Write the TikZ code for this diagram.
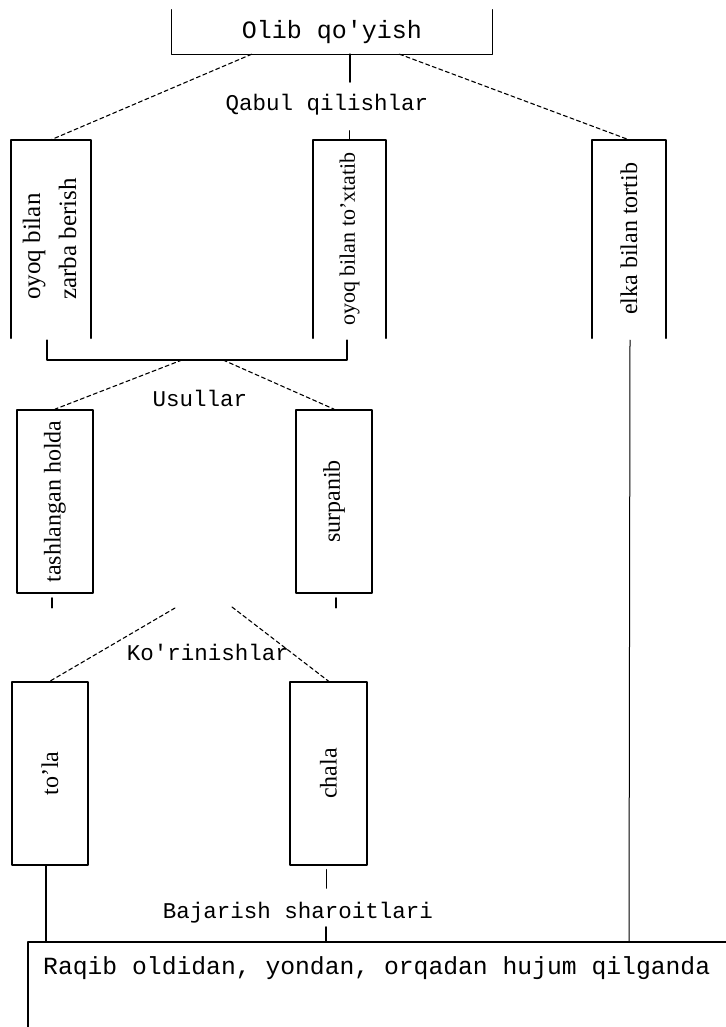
\documentclass[tikz,border=0pt]{standalone}
\usepackage{fontspec}
\setmainfont{Liberation Serif}
\newfontfamily\labfont{Liberation Mono}
\usepackage{graphicx}
\usetikzlibrary{calc}
\tikzset{
  box/.style={draw,line width=1.7pt,inner sep=0pt,font=\fontsize{24}{30}\selectfont},
  openbox/.style={inner sep=0pt,font=\fontsize{24}{30}\selectfont},
  lab/.style={inner sep=1pt,font=\labfont\fontsize{22.5}{26}\selectfont},
  dashline/.style={line width=1.1pt,dash pattern=on 4pt off 3pt},
  stub/.style={line width=1.8pt},
}
\newcommand{\vtext}[1]{\rotatebox{90}{#1}}

\begin{document}
\begin{tikzpicture}[line cap=round,line join=round,x=1pt,y=-1pt]
\useasboundingbox (0,0) rectangle (725,1027);
% top box, open at the top
\node[openbox,minimum width=321,minimum height=44,font=\labfont\fontsize{25}{28}\selectfont] (olib) at (332,32) {Olib qo'yish};
\draw[line width=1.3pt] (olib.north west)--(olib.south west)--(olib.south east)--(olib.north east);
\node[lab] (qabul) at (327,105) {Qabul qilishlar};
\coordinate (s1) at (350,82);
\draw[stub] (olib.south -| s1) -- (s1);
% first row, open at the bottom
\node[openbox,minimum width=80,minimum height=198,font=\fontsize{25}{36}\selectfont] (oz) at (51,239) {\vtext{\begin{tabular}{@{}l@{}}oyoq bilan\\zarba berish\end{tabular}}};
\node[openbox,minimum width=73,minimum height=198,font=\fontsize{22}{26}\selectfont] (ot) at (349.5,239) {\vtext{oyoq bilan to'xtatib}};
\node[openbox,minimum width=74,minimum height=198] (et) at (629,239) {\vtext{elka bilan tortib}};
\draw[line width=1.7pt] (oz.south west)--(oz.north west)--(oz.north east)--(oz.south east);
\draw[line width=1.7pt] (ot.south west)--(ot.north west)--(ot.north east)--(ot.south east);
\draw[line width=1.7pt] (et.south west)--(et.north west)--(et.north east)--(et.south east);
\draw[dashline] ($(olib.south west)!0.25!(olib.south east)$) -- (oz.north);
\draw[dashline] ($(olib.south west)!0.71!(olib.south east)$) -- (et.north);
\draw[line width=1.2pt] (ot.north) -- ++(0,-9);
% bracket under the first row
\coordinate (u1) at (47,360);
\coordinate (u2) at (347,360);
\draw[stub] ($(oz.south -| u1)+(0,2)$) -- (u1) -- (u2) -- ($(ot.south -| u2)+(0,2)$);
\node[lab] (usul) at (200,398) {Usullar};
% second row
\node[box,minimum width=76,minimum height=183] (ta) at (55,501.5) {\vtext{tashlangan holda}};
\node[box,minimum width=76,minimum height=183] (su) at (334,501.5) {\vtext{surpanib}};
\draw[dashline] ($(u1)!0.45!(u2)$) -- (ta.north);
\draw[dashline] ($(u1)!0.587!(u2)$) -- (su.north);
\draw[line width=1.2pt] ($(ta.south)+(-3,4)$) -- ++(0,10);
\draw[line width=1.2pt] ($(su.south)+(2,4)$) -- ++(0,10);
% third row
\node[lab] (korin) at (208,652) {Ko'rinishlar};
\coordinate (k1) at (175,608);
\coordinate (k2) at (232,607);
\node[box,minimum width=76,minimum height=183] (tola) at (50,773.5) {\vtext{to'la}};
\node[box,minimum width=77,minimum height=183] (chala) at (328.5,773.5) {\vtext{chala}};
\draw[dashline] (k1) -- (tola.north);
\draw[dashline] (k2) -- (chala.north);
% bottom box, cut by the page
\coordinate (ft) at (28,942);
\draw[line width=1.3pt] (28,1040) -- (ft) -- (740,942);
\node[lab,anchor=west,font=\labfont\fontsize{24.7}{28}\selectfont] (raqib) at (42,968) {Raqib oldidan, yondan, orqadan hujum qilganda};
\coordinate (t1) at (46,865);
\draw[stub] (t1) -- (t1 |- ft);
\draw[stub] ($(chala.south)+(-2,4)$) -- ++(0,18);
\node[lab] (bajar) at (298,913) {Bajarish sharoitlari};
\coordinate (b2) at (326,927);
\draw[stub] (b2) -- (b2 |- ft);
\draw[line width=1pt] ($(et.south)+(1,2)$) -- (et.south |- ft);
\end{tikzpicture}
\end{document}
